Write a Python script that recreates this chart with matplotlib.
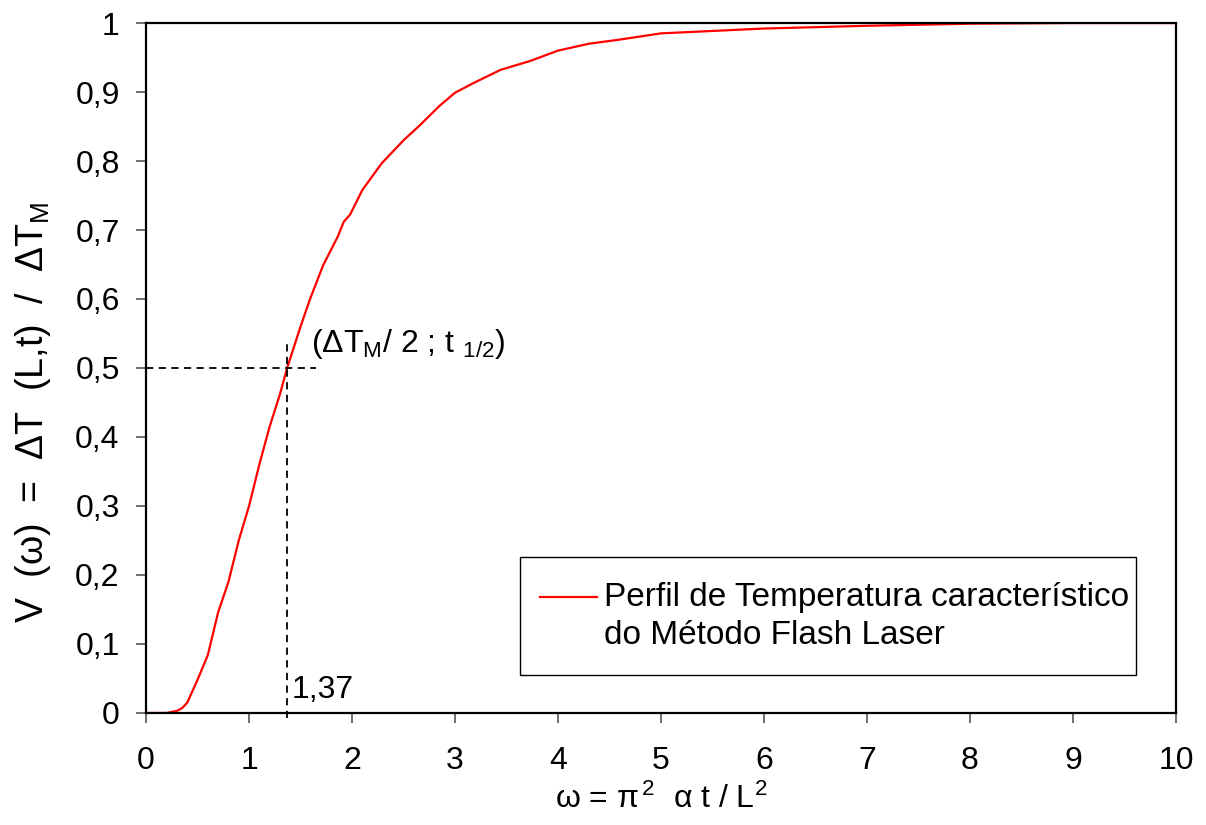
import numpy as np
import matplotlib
matplotlib.use('Agg')
import matplotlib.pyplot as plt
from matplotlib.patches import Rectangle

plt.rcParams['font.family'] = ['Liberation Sans', 'DejaVu Sans']
plt.rcParams['mathtext.fontset'] = 'custom'
plt.rcParams['mathtext.rm'] = 'Liberation Sans'
plt.rcParams['mathtext.it'] = 'Liberation Sans'

# curva
omega = [0, 0.2, 0.3, 0.35, 0.4, 0.5, 0.6, 0.7, 0.8, 0.9, 1.0, 1.1, 1.2, 1.3, 1.37,
         1.5, 1.59, 1.72, 1.86, 1.92, 1.98, 2.1, 2.29, 2.5, 2.66, 2.85, 3.0, 3.18,
         3.44, 3.73, 4.0, 4.3, 4.6, 5.0, 6.0, 7.0, 8.0, 9.0, 10.0]
V = [0, 0, 0.003, 0.007, 0.015, 0.048, 0.084, 0.146, 0.19, 0.25, 0.30, 0.36, 0.415,
     0.462, 0.50, 0.56, 0.599, 0.649, 0.69, 0.712, 0.722, 0.758, 0.797, 0.83, 0.852,
     0.88, 0.899, 0.913, 0.932, 0.945, 0.96, 0.97, 0.976, 0.985, 0.992, 0.996,
     0.999, 1.0, 1.0]

x_ticks = list(range(0, 11))
y_ticks = [0, 0.1, 0.2, 0.3, 0.4, 0.5, 0.6, 0.7, 0.8, 0.9, 1.0]
y_labels = ['0', '0,1', '0,2', '0,3', '0,4', '0,5', '0,6', '0,7', '0,8', '0,9', '1']

w_half = 1.37

fig = plt.figure(figsize=(12.06, 8.25), dpi=100)
ax = fig.add_axes([0.1211, 0.1358, 0.854, 0.8363])

ax.plot(omega, V, color='red', lw=1.6)

# linhas tracejadas do ponto t1/2
ax.plot([0, 1.65], [0.5, 0.5], color='black', ls=(0, (4, 3)), lw=1.3)
ax.plot([w_half, w_half], [-0.008, 0.54], color='black', ls=(0, (4, 3)), lw=1.3,
        clip_on=False)

ax.text(1.6, 0.535, r'($\Delta$T$_{\mathrm{M}}$/ 2 ; t $_{1/2}$)', fontsize=23,
        va='center', ha='left')
ax.text(1.41, 0.033, '1,37', fontsize=23, va='center', ha='left')

ax.set_xlim(0, 10)
ax.set_ylim(0, 1)
ax.set_xticks(x_ticks)
ax.set_yticks(y_ticks)
ax.set_yticklabels(y_labels)
ax.tick_params(axis='both', labelsize=23, direction='out', length=7, width=1.2,
               color='#555555')
ax.tick_params(axis='y', pad=12)
ax.tick_params(axis='x', pad=17)

for s in ax.spines.values():
    s.set_linewidth(1.6)

ax.set_xlabel(r'ω = π$^{\,2}$  α t / L$^{2}$', fontsize=23)
ax.xaxis.set_label_coords(0.5, -0.103)
ax.set_ylabel(r'V  (ω)  =  ΔT  (L,t)  /  ΔT$_{\mathrm{M}}$', fontsize=27)
ax.yaxis.set_label_coords(-0.09, 0.436)

# legenda desenhada à mão (traço alinhado à primeira linha)
ax.add_patch(Rectangle((0.363, 0.055), 0.598, 0.171, transform=ax.transAxes,
                       facecolor='white', edgecolor='black', lw=1.0, zorder=5))
ax.plot([0.3825, 0.438], [0.168, 0.168], color='red', lw=1.6,
        transform=ax.transAxes, zorder=6)
ax.text(0.445, 0.168, 'Perfil de Temperatura característico', fontsize=24,
        transform=ax.transAxes, va='center', ha='left', zorder=6)
ax.text(0.445, 0.1116, 'do Método Flash Laser', fontsize=24,
        transform=ax.transAxes, va='center', ha='left', zorder=6)

fig.savefig('out.png', dpi=100)
